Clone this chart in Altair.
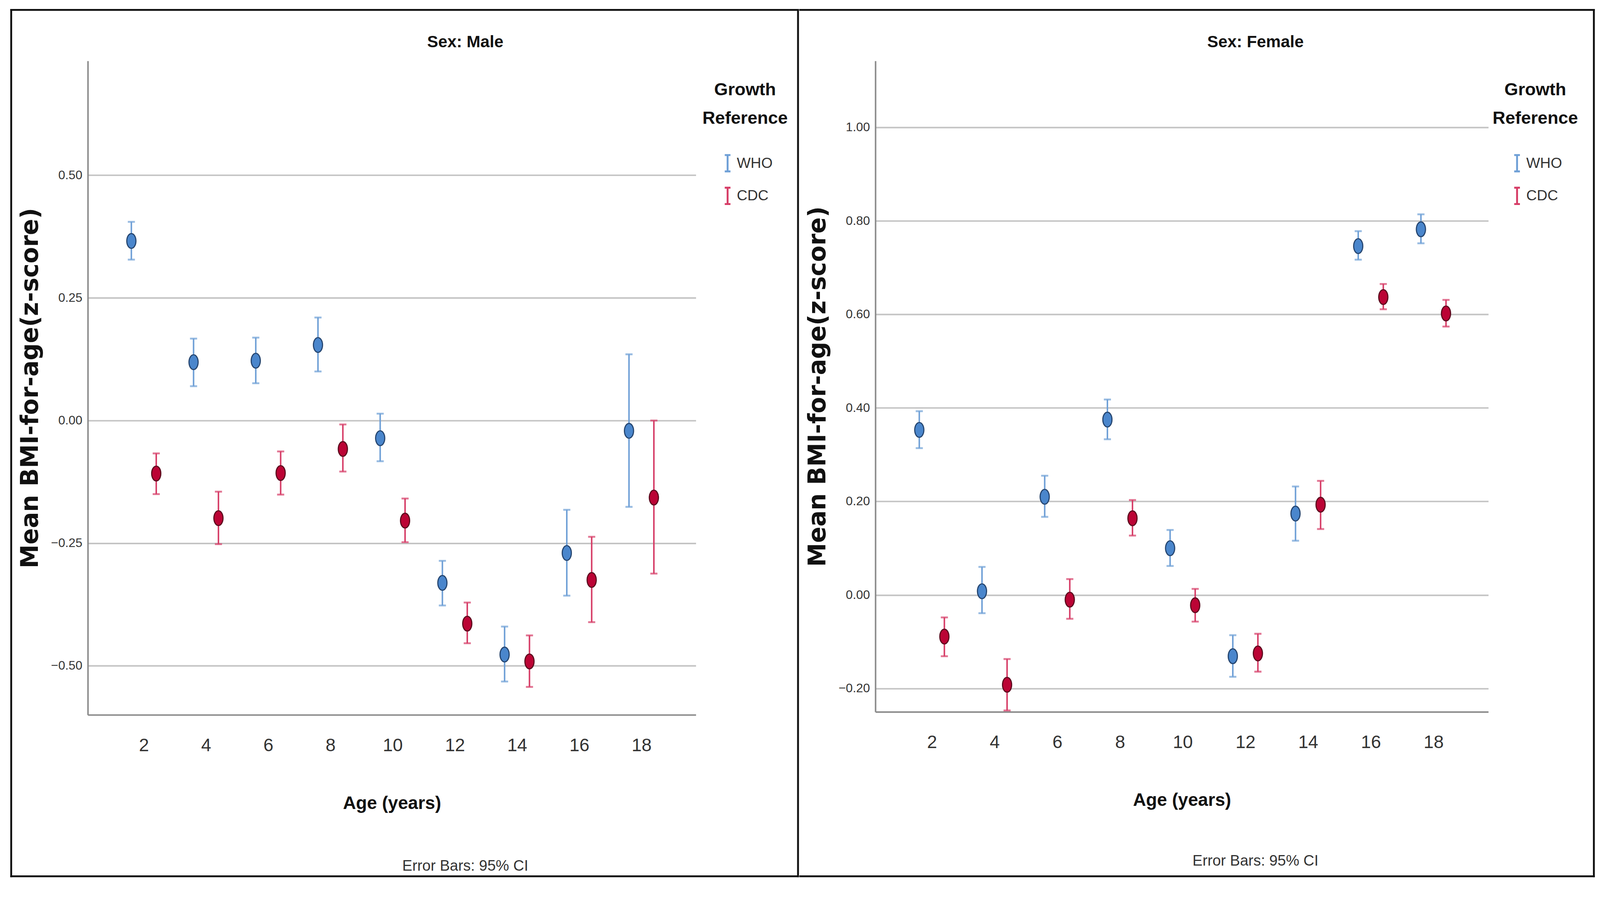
import altair as alt
import pandas as pd

# ---------------- data ----------------
ages = [2, 4, 6, 8, 10, 12, 14, 16, 18]
refs = ["WHO", "CDC"]

male_who_mean = [0.366, 0.119, 0.122, 0.154, -0.036, -0.331, -0.477, -0.270, -0.021]
male_who_lo = [0.328, 0.070, 0.076, 0.100, -0.083, -0.377, -0.532, -0.357, -0.176]
male_who_hi = [0.405, 0.167, 0.169, 0.210, 0.014, -0.286, -0.420, -0.182, 0.135]
male_cdc_mean = [-0.108, -0.199, -0.107, -0.058, -0.204, -0.414, -0.491, -0.325, -0.157]
male_cdc_lo = [-0.150, -0.252, -0.151, -0.104, -0.248, -0.454, -0.543, -0.411, -0.312]
male_cdc_hi = [-0.067, -0.145, -0.063, -0.008, -0.159, -0.371, -0.438, -0.237, 0.000]

female_who_mean = [0.353, 0.008, 0.210, 0.375, 0.100, -0.131, 0.174, 0.746, 0.782]
female_who_lo = [0.314, -0.039, 0.167, 0.333, 0.062, -0.175, 0.116, 0.717, 0.752]
female_who_hi = [0.393, 0.060, 0.255, 0.418, 0.139, -0.086, 0.232, 0.778, 0.814]
female_cdc_mean = [-0.089, -0.192, -0.010, 0.164, -0.022, -0.125, 0.193, 0.637, 0.602]
female_cdc_lo = [-0.131, -0.247, -0.051, 0.127, -0.057, -0.164, 0.141, 0.611, 0.574]
female_cdc_hi = [-0.048, -0.137, 0.034, 0.203, 0.013, -0.083, 0.244, 0.665, 0.631]

male_yticks = [-0.50, -0.25, 0.00, 0.25, 0.50]
female_yticks = [-0.20, 0.00, 0.20, 0.40, 0.60, 0.80, 1.00]

panel_titles = ["Sex: Male", "Sex: Female"]
footer_text = "Error Bars: 95% CI"
x_title = "Age (years)"
y_title = "Mean BMI-for-age(z-score)"
legend_title = ["Growth", "Reference"]


def make_df(who_m, who_lo, who_hi, cdc_m, cdc_lo, cdc_hi):
    rows = []
    for i, a in enumerate(ages):
        rows.append(dict(age=a, ref="WHO", mean=who_m[i], lo=who_lo[i], hi=who_hi[i]))
        rows.append(dict(age=a, ref="CDC", mean=cdc_m[i], lo=cdc_lo[i], hi=cdc_hi[i]))
    return pd.DataFrame(rows)


male_df = make_df(male_who_mean, male_who_lo, male_who_hi, male_cdc_mean, male_cdc_lo, male_cdc_hi)
female_df = make_df(female_who_mean, female_who_lo, female_who_hi, female_cdc_mean, female_cdc_lo, female_cdc_hi)

# ---------------- style ----------------
NARROW = "Liberation Sans Narrow, Arial Narrow, Liberation Sans, Arial, sans-serif"
WIDE_BOLD = "DejaVu Sans, Verdana, sans-serif"

bar_colors = ["#6e9fd6", "#d63c66"]
point_fill = ["#4a86cc", "#bb0435"]
point_stroke = ["#25456f", "#5c0a1e"]

ISHAPE = "M-0.35,-1H0.35M0,-1V1M-0.35,1H0.35"
ELLIPSE = "M-0.62,0A0.62,1,0,1,0,0.62,0A0.62,1,0,1,0,-0.62,0Z"
HW = 2.5  # half width of the frame lines


def frame_piece(x0, x1, y0, y1):
    return alt.Chart(alt.Data(values=[{"k": 1}])).mark_rect(fill="#111111").encode(
        x=alt.value(x0), x2=alt.value(x1), y=alt.value(y0), y2=alt.value(y1)
    )


def panel(df, title, ydomain, yticks, W, H, legend_x, sym_off, frame, left_side, footer_xy, title_x):
    base = alt.Chart(df).transform_calculate(
        xpos="datum.age + (datum.ref == 'WHO' ? -0.4 : 0.4)"
    )
    xscale = alt.Scale(domain=[0.2, 19.75], nice=False, zero=False)
    yscale = alt.Scale(domain=ydomain, nice=False, zero=False)
    xaxis = alt.Axis(
        values=ages, title=x_title, grid=False, ticks=False,
        labelFont=NARROW, labelFontSize=48, labelColor="#333333", labelPadding=58,
        titleFont=NARROW, titleFontSize=48, titleFontWeight="bold", titleColor="#111111",
        titlePadding=106, domainColor="#8a8a8a", domainWidth=4,
    )
    yaxis = alt.Axis(
        values=yticks, format=".2f", title=y_title, grid=True, ticks=False,
        gridColor="#c4c4c4", gridWidth=4,
        labelFont=NARROW, labelFontSize=33, labelColor="#333333", labelPadding=15,
        titleFont=WIDE_BOLD, titleFontSize=64, titleFontWeight="bold", titleColor="#111111",
        titlePadding=22, domainColor="#8a8a8a", domainWidth=4,
    )
    x_enc = alt.X("xpos:Q", scale=xscale, axis=xaxis)
    cscale = alt.Scale(domain=refs, range=bar_colors)

    rules = base.mark_rule(strokeWidth=4).encode(
        x=x_enc,
        y=alt.Y("lo:Q", scale=yscale, axis=yaxis),
        y2="hi:Q",
        color=alt.Color(
            "ref:N", scale=cscale,
            legend=alt.Legend(
                title=legend_title, orient="none", legendX=legend_x, legendY=54,
                titleFont=NARROW, titleFontSize=47, titleFontWeight="bold",
                titleColor="#111111", titleAlign="center", titleAnchor="middle",
                titleLineHeight=76, titlePadding=71, titleLimit=1000,
                labelFont=NARROW, labelFontSize=39, labelColor="#333333",
                labelOffset=0, labelLimit=1000, symbolType=ISHAPE, symbolSize=1900,
                symbolStrokeWidth=5, symbolFillColor="transparent",
                symbolOffset=sym_off, rowPadding=22,
            ),
        ),
    )
    cap_lo = base.mark_tick(orient="horizontal", size=19, thickness=5).encode(
        x=x_enc, y=alt.Y("lo:Q", scale=yscale, axis=yaxis),
        color=alt.Color("ref:N", scale=cscale, legend=None),
    )
    cap_hi = base.mark_tick(orient="horizontal", size=19, thickness=5).encode(
        x=x_enc, y=alt.Y("hi:Q", scale=yscale, axis=yaxis),
        color=alt.Color("ref:N", scale=cscale, legend=None),
    )
    points = base.mark_point(shape=ELLIPSE, size=1550, filled=True, strokeWidth=3, opacity=1).encode(
        x=x_enc, y=alt.Y("mean:Q", scale=yscale, axis=yaxis),
        fill=alt.Fill("ref:N", scale=alt.Scale(domain=refs, range=point_fill), legend=None),
        stroke=alt.Stroke("ref:N", scale=alt.Scale(domain=refs, range=point_stroke), legend=None),
    )
    fx0, fx1, fy0, fy1 = frame
    hx0 = fx0 - HW if left_side else fx0 + HW
    edges = [
        frame_piece(hx0, fx1 + HW, fy0 - HW, fy0 + HW),
        frame_piece(hx0, fx1 + HW, fy1 - HW, fy1 + HW),
        frame_piece(fx1 - HW, fx1 + HW, fy0 - HW, fy1 + HW),
    ]
    if left_side:
        edges.append(frame_piece(fx0 - HW, fx0 + HW, fy0 - HW, fy1 + HW))
    footer = alt.Chart(alt.Data(values=[{"t": footer_text}])).mark_text(
        font=NARROW, fontSize=40, color="#333333", align="center", baseline="alphabetic"
    ).encode(text="t:N", x=alt.value(footer_xy[0]), y=alt.value(footer_xy[1]))
    head = alt.Chart(alt.Data(values=[{"t": title}])).mark_text(
        font=NARROW, fontSize=44, fontWeight="bold", color="#111111",
        align="center", baseline="alphabetic"
    ).encode(text="t:N", x=alt.value(title_x), y=alt.value(-36))

    return alt.layer(*edges, rules, cap_lo, cap_hi, points, footer, head).properties(
        width=W, height=H,
    )


left = panel(male_df, panel_titles[0], [-0.6, 0.733], male_yticks, 1619, 1742,
             1636, 2, (-204, 1891, -136, 2172), True, (1005, 2157), 1005)
right = panel(female_df, panel_titles[1], [-0.25, 1.142], female_yticks, 1632, 1734,
              1643, -1, (-205, 1913, -136, 2172), False, (1012, 2143), 1012)

chart = alt.hconcat(left, right, spacing=0).resolve_legend(
    color="independent"
).resolve_scale(color="independent", fill="independent", stroke="independent").properties(
    padding={"left": 18.5, "top": -30, "right": 5, "bottom": -38},
    background="white",
).configure_view(stroke="transparent")

chart.save("out.html", embed_options={"renderer": "svg", "actions": False})
